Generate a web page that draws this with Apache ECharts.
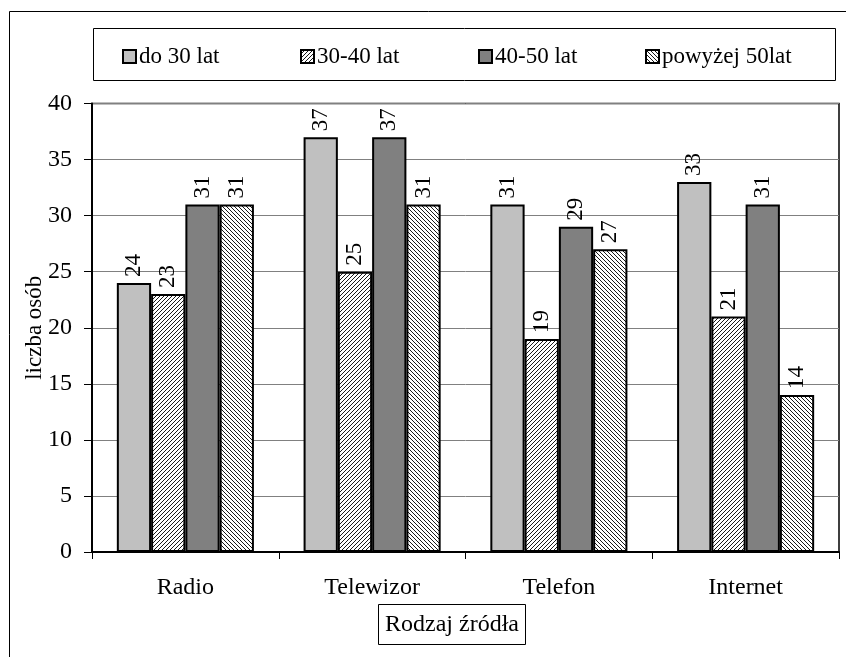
<!DOCTYPE html>
<html>
<head>
<meta charset="utf-8">
<script src="https://cdn.jsdelivr.net/npm/echarts@6/dist/echarts.min.js"></script>
<style>
  html, body { margin: 0; padding: 0; background: #fff; }
  #chart { width: 846px; height: 657px; }
</style>
</head>
<body>
<div id="chart"></div>
<script>
// Source types and respondent counts per age group
const categories = ['Radio', 'Telewizor', 'Telefon', 'Internet'];
const seriesNames = ['do 30 lat', '30-40 lat', '40-50 lat', 'powyżej 50lat'];
const under30 = [24, 37, 31, 33];
const age30to40 = [23, 25, 19, 21];
const age40to50 = [31, 37, 29, 31];
const over50 = [31, 31, 27, 14];
const yTicks = [0, 5, 10, 15, 20, 25, 30, 35, 40];

const FONT = '"Liberation Serif", "Times New Roman", serif';

// Diagonal hatch fills, drawn once into small tiles
function hatch(dir, size, width) {
  const c = document.createElement('canvas');
  c.width = size; c.height = size;
  const g = c.getContext('2d');
  g.fillStyle = '#fff';
  g.fillRect(0, 0, size, size);
  g.strokeStyle = '#1a1a1a';
  g.lineWidth = width;
  for (let k = -size; k <= size; k += size) {
    g.beginPath();
    if (dir === '/') {
      g.moveTo(k, size); g.lineTo(k + size, 0);
    } else {
      g.moveTo(k, 0); g.lineTo(k + size, size);
    }
    g.stroke();
  }
  return { image: c, repeat: 'repeat' };
}

const fills = ['#c0c0c0', hatch('/', 4, 1), '#808080', hatch('\\', 4, 1)];
const values = [under30, age30to40, age40to50, over50];

const chart = echarts.init(document.getElementById('chart'), null, { renderer: 'canvas' });

const legendLeft = [122, 300, 478, 645];

chart.setOption({
  backgroundColor: '#fff',
  animation: false,
  textStyle: { fontFamily: FONT, color: '#000' },
  title: {
    text: 'Rodzaj źródła',
    left: 378, top: 604,
    padding: [8, 7, 8, 7],
    borderColor: '#000', borderWidth: 1,
    textStyle: { fontFamily: FONT, fontSize: 24, fontWeight: 'normal', color: '#000', lineHeight: 25 }
  },
  graphic: [
    { type: 'rect', silent: true, shape: { x: 9.5, y: 11.5, width: 900, height: 700 },
      style: { fill: 'none', stroke: '#000', lineWidth: 1 } },
    { type: 'rect', silent: true, shape: { x: 93.5, y: 28.5, width: 742, height: 52 },
      style: { fill: 'none', stroke: '#000', lineWidth: 1 } }
  ],
  legend: seriesNames.map((n, i) => ({
    data: [n],
    left: legendLeft[i], top: 45,
    padding: 0,
    itemWidth: 13, itemHeight: 13,
    icon: 'rect',
    selectedMode: false,
    textStyle: { fontFamily: FONT, fontSize: 23, color: '#000', padding: [0, 0, 0, -2] }
  })),
  grid: {
    left: 92, right: 7, top: 103.5, bottom: 105,
    show: true, borderColor: '#000', borderWidth: 1.5, backgroundColor: 'transparent'
  },
  xAxis: {
    type: 'category',
    data: categories,
    axisLine: { lineStyle: { color: '#000', width: 2 } },
    axisTick: { show: true, alignWithLabel: false, length: 7, lineStyle: { color: '#000', width: 1 } },
    axisLabel: { fontFamily: FONT, fontSize: 24, color: '#000', margin: 24 },
    splitLine: { show: false }
  },
  yAxis: {
    type: 'value',
    min: yTicks[0], max: yTicks[yTicks.length - 1], interval: 5,
    name: 'liczba osób',
    nameLocation: 'middle',
    nameGap: 46,
    nameMoveOverlap: false,
    nameTextStyle: { fontFamily: FONT, fontSize: 23, color: '#000' },
    axisLine: { show: true, lineStyle: { color: '#000', width: 2 } },
    axisTick: { show: true, length: 8, lineStyle: { color: '#000', width: 1 } },
    axisLabel: { fontFamily: FONT, fontSize: 24, color: '#000', margin: 20 },
    splitLine: { show: true, lineStyle: { color: '#808080', width: 1 } }
  },
  series: seriesNames.map((n, i) => ({
    name: n,
    type: 'bar',
    data: values[i],
    barGap: '0%',
    barCategoryGap: '26.6%',
    itemStyle: { color: fills[i], borderColor: '#000', borderWidth: 2 },
    label: {
      show: true,
      position: 'top',
      rotate: 90,
      align: 'left',
      verticalAlign: 'middle',
      distance: 6,
      fontFamily: FONT,
      fontSize: 23,
      color: '#000'
    }
  }))
});
</script>
</body>
</html>
